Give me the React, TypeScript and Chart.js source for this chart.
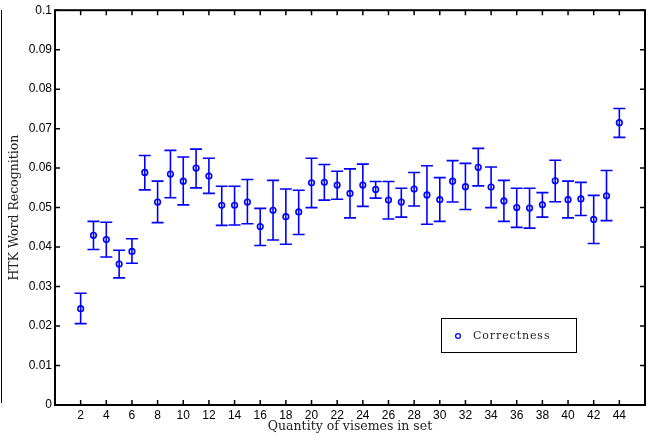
import React, { useEffect, useRef } from "react";
import { Chart, registerables } from "chart.js";

Chart.register(...registerables);

const xValues = [2,3,4,5,6,7,8,9,10,11,12,13,14,15,16,17,18,19,20,21,22,23,24,25,26,27,28,29,30,31,32,33,34,35,36,37,38,39,40,41,42,43,44];
const meanValues = [0.0244,0.0430,0.0419,0.0357,0.0389,0.0589,0.0514,0.0585,0.0567,0.0600,0.0580,0.0506,0.0506,0.0514,0.0452,0.0493,0.0477,0.0489,0.0563,0.0564,0.0557,0.0536,0.0557,0.0546,0.0519,0.0514,0.0547,0.0532,0.0520,0.0567,0.0553,0.0602,0.0552,0.0517,0.0500,0.0499,0.0507,0.0568,0.0520,0.0522,0.0470,0.0530,0.0715];
const upperValues = [0.0283,0.0465,0.0463,0.0392,0.0421,0.0632,0.0567,0.0645,0.0628,0.0648,0.0625,0.0554,0.0554,0.0571,0.0498,0.0569,0.0547,0.0544,0.0625,0.0609,0.0592,0.0598,0.0610,0.0566,0.0566,0.0549,0.0589,0.0606,0.0576,0.0619,0.0612,0.0650,0.0603,0.0569,0.0549,0.0549,0.0538,0.0620,0.0567,0.0564,0.0531,0.0594,0.0751];
const lowerValues = [0.0206,0.0394,0.0375,0.0322,0.0359,0.0545,0.0462,0.0525,0.0507,0.0550,0.0536,0.0455,0.0456,0.0459,0.0404,0.0418,0.0407,0.0432,0.0500,0.0519,0.0521,0.0474,0.0503,0.0524,0.0471,0.0476,0.0504,0.0458,0.0465,0.0514,0.0495,0.0555,0.0500,0.0465,0.0450,0.0448,0.0476,0.0515,0.0474,0.0480,0.0409,0.0467,0.0678];
const xTickValues = [2,4,6,8,10,12,14,16,18,20,22,24,26,28,30,32,34,36,38,40,42,44];
const yTickValues = [0,0.01,0.02,0.03,0.04,0.05,0.06,0.07,0.08,0.09,0.1];
const yTickLabels = ["0","0.01","0.02","0.03","0.04","0.05","0.06","0.07","0.08","0.09","0.1"];
const seriesName = "Correctness";
const xTitle = "Quantity of visemes in set";
const yTitle = "HTK Word Recognition";

const BLUE = "#0000ff";

const decorPlugin = {
  id: "decor",
  beforeDatasetsDraw(chart: any) {
    const ctx = chart.ctx;
    const xs = chart.scales.x;
    const ys = chart.scales.y;
    ctx.save();
    ctx.strokeStyle = BLUE;
    ctx.lineWidth = 1.6;
    const cap = 6;
    for (let i = 0; i < xValues.length; i++) {
      const px = xs.getPixelForValue(xValues[i]);
      const pTop = ys.getPixelForValue(upperValues[i]);
      const pBot = ys.getPixelForValue(lowerValues[i]);
      ctx.beginPath();
      ctx.moveTo(px, pTop);
      ctx.lineTo(px, pBot);
      ctx.moveTo(px - cap, pTop);
      ctx.lineTo(px + cap, pTop);
      ctx.moveTo(px - cap, pBot);
      ctx.lineTo(px + cap, pBot);
      ctx.stroke();
    }
    ctx.restore();
  },
  afterDraw(chart: any) {
    const ctx = chart.ctx;
    const ca = chart.chartArea;
    const xs = chart.scales.x;
    const ys = chart.scales.y;
    ctx.save();
    ctx.strokeStyle = "#000";
    ctx.lineWidth = 2;
    ctx.strokeRect(ca.left, ca.top, ca.right - ca.left, ca.bottom - ca.top);
    const tl = 5;
    ctx.lineWidth = 1.5;
    ctx.beginPath();
    for (const v of xTickValues) {
      const px = xs.getPixelForValue(v);
      ctx.moveTo(px, ca.bottom);
      ctx.lineTo(px, ca.bottom - tl);
      ctx.moveTo(px, ca.top);
      ctx.lineTo(px, ca.top + tl);
    }
    for (const v of yTickValues) {
      const py = ys.getPixelForValue(v);
      ctx.moveTo(ca.left, py);
      ctx.lineTo(ca.left + tl, py);
      ctx.moveTo(ca.right, py);
      ctx.lineTo(ca.right - tl, py);
    }
    ctx.stroke();
    const lw = 135, lh = 34;
    const lx = ca.right - 204;
    const ly = ca.bottom - 87;
    ctx.fillStyle = "#fff";
    ctx.fillRect(lx, ly, lw, lh);
    ctx.strokeStyle = "#000";
    ctx.lineWidth = 1;
    ctx.strokeRect(lx + 0.5, ly + 0.5, lw, lh);
    ctx.strokeStyle = BLUE;
    ctx.lineWidth = 1.3;
    ctx.beginPath();
    ctx.arc(lx + 17, ly + 18, 2.4, 0, Math.PI * 2);
    ctx.stroke();
    ctx.fillStyle = "#222";
    ctx.font = "11px 'DejaVu Serif'";
    try { (ctx as any).letterSpacing = "0.9px"; } catch (e) {}
    ctx.textBaseline = "middle";
    ctx.textAlign = "left";
    ctx.fillText(seriesName, lx + 32, ly + 18);
    ctx.restore();
  },
};

export default function App() {
  const ref = useRef<HTMLCanvasElement | null>(null);
  useEffect(() => {
    if (!ref.current) return;
    const chart = new Chart(ref.current, {
      type: "scatter",
      data: {
        datasets: [
          {
            label: seriesName,
            data: xValues.map((x, i) => ({ x, y: meanValues[i] })),
            borderColor: BLUE,
            backgroundColor: "rgba(0,0,0,0)",
            pointRadius: 2.8,
            pointBorderWidth: 1.6,
            showLine: false,
          },
        ],
      },
      options: {
        responsive: false,
        animation: false,
        layout: { padding: { top: 10, right: 11, left: 0, bottom: 0 } },
        plugins: { legend: { display: false }, tooltip: { enabled: false } },
        scales: {
          x: {
            type: "linear",
            min: 0,
            max: 46,
            grid: { display: false, drawTicks: false },
            border: { display: false },
            afterBuildTicks: (s: any) => {
              s.ticks = xTickValues.map((v) => ({ value: v }));
            },
            afterFit: (s: any) => {
              s.height = 36;
            },
            ticks: {
              padding: 3,
              color: "#000",
              font: { family: "'Liberation Sans', Arial, sans-serif", size: 12 },
              maxRotation: 0,
              autoSkip: false,
              callback: (v: any) => String(v),
            },
            title: {
              display: true,
              text: xTitle,
              color: "#222",
              font: { family: "'DejaVu Serif', serif", size: 12.5 },
              padding: { top: 0, bottom: 7 },
            },
          },
          y: {
            type: "linear",
            min: 0,
            max: 0.1,
            grid: { display: false, drawTicks: false },
            border: { display: false },
            afterBuildTicks: (s: any) => {
              s.ticks = yTickValues.map((v) => ({ value: v }));
            },
            afterFit: (s: any) => {
              s.width = 55;
            },
            ticks: {
              padding: 3,
              color: "#000",
              font: { family: "'Liberation Sans', Arial, sans-serif", size: 12 },
              autoSkip: false,
              callback: (v: any) => {
                const idx = yTickValues.findIndex((t) => Math.abs(t - Number(v)) < 1e-9);
                return idx >= 0 ? yTickLabels[idx] : "";
              },
            },
            title: {
              display: true,
              text: yTitle,
              color: "#222",
              font: { family: "'DejaVu Serif', serif", size: 12.5 },
              padding: { top: 7, bottom: 0 },
            },
          },
        },
      },
      plugins: [decorPlugin],
    } as any);
    return () => chart.destroy();
  }, []);
  return (
    <div style={{ position: "absolute", left: 0, top: 0, width: 656, height: 441, background: "#fff" }}>
      <canvas ref={ref} width={656} height={441} style={{ display: "block" }} />
      <div style={{ position: "absolute", left: 1, top: 10, width: 1, height: 393, background: "#000" }} />
    </div>
  );
}
